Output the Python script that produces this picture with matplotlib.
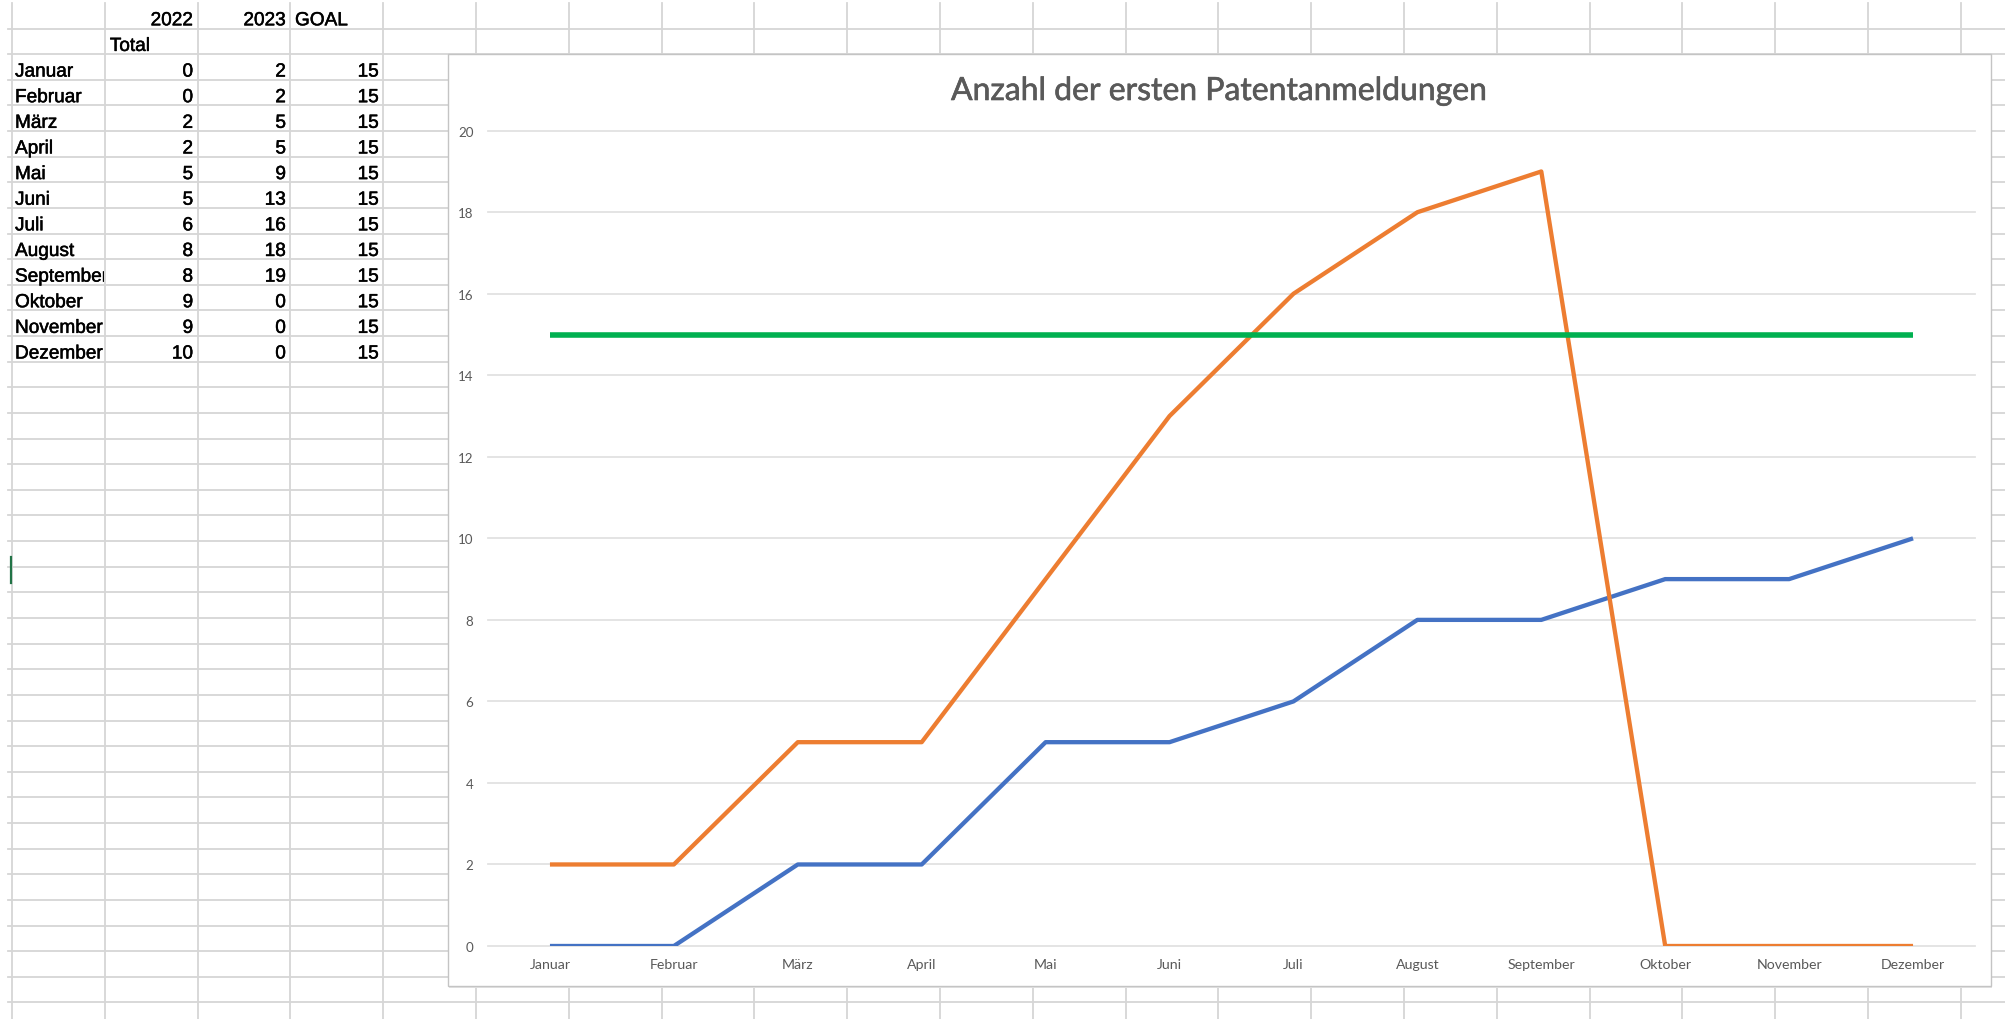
import matplotlib
matplotlib.use("Agg")
import matplotlib.pyplot as plt
from matplotlib.patches import Rectangle
from matplotlib import patheffects as pe
import numpy as np

# ---- data ----
months = ["Januar", "Februar", "März", "April", "Mai", "Juni", "Juli",
          "August", "September", "Oktober", "November", "Dezember"]
values_2022 = [0, 0, 2, 2, 5, 5, 6, 8, 8, 9, 9, 10]
values_2023 = [2, 2, 5, 5, 9, 13, 16, 18, 19, 0, 0, 0]
goal = [15] * 12
series_names = ["2022", "2023", "GOAL"]
title = "Anzahl der ersten Patentanmeldungen"
y_ticks = list(range(0, 21, 2))

W, H = 2005, 1020
fig = plt.figure(figsize=(W / 100, H / 100), dpi=100)
fig.patch.set_facecolor("white")

# ---- spreadsheet background ----
bg = fig.add_axes([0, 0, 1, 1])
bg.set_xlim(0, W)
bg.set_ylim(H, 0)
bg.axis("off")

grid_c = "#d6d6d6"
col0, colw = 12.0, 92.8
row0, rowh = 29.5, 25.63
col_x = [col0 + colw * n for n in range(22)]
row_y = [row0 + rowh * k for k in range(40) if row0 + rowh * k < H]
for x in col_x:
    bg.plot([x, x], [4, H], color=grid_c, lw=1.3, zorder=1)
for y in row_y:
    bg.plot([8, W], [y, y], color=grid_c, lw=1.3, zorder=1)

# cursor mark
bg.plot([11.5, 11.5], [558, 584], color="#217346", lw=1.6, zorder=2)

thick = [pe.withStroke(linewidth=0.35, foreground="black")]
tfont = dict(family="Liberation Sans", fontsize=13.7, color="black", path_effects=thick)

def row_base(r):
    return row0 + rowh * (r - 1) - 3.2

bg.text(col_x[2] - 4.5, row_base(1), series_names[0], ha="right", va="baseline", **tfont)
bg.text(col_x[3] - 4.5, row_base(1), series_names[1], ha="right", va="baseline", **tfont)
bg.text(col_x[3] + 4.6, row_base(1), series_names[2], ha="left", va="baseline", **tfont)
bg.text(col_x[1] + 5, row_base(2), "Total", ha="left", va="baseline", **tfont)
for i, m in enumerate(months):
    r = 3 + i
    t = bg.text(col_x[0] + 3, row_base(r), m, ha="left", va="baseline", clip_on=True, **tfont)
    clip = Rectangle((col_x[0], 0), colw - 1.0, H, transform=bg.transData)
    t.set_clip_path(clip)
    bg.text(col_x[2] - 4.5, row_base(r), str(values_2022[i]), ha="right", va="baseline", **tfont)
    bg.text(col_x[3] - 4.5, row_base(r), str(values_2023[i]), ha="right", va="baseline", **tfont)
    bg.text(col_x[4] - 4.5, row_base(r), str(goal[i]), ha="right", va="baseline", **tfont)

# chart box
bg.add_patch(Rectangle((449, 57), 1543, 932, facecolor="#e4e4e4", edgecolor="none", zorder=4))
bg.add_patch(Rectangle((448, 55), 1543, 932, facecolor="white", edgecolor="#c4c4c4", lw=1.0, zorder=5))

# ---- chart axes ----
x_left, x_right = 488, 1975
y_top, y_bot = 131.7, 947
ax = fig.add_axes([x_left / W, 1 - y_bot / H, (x_right - x_left) / W, (y_bot - y_top) / H])
ax.set_facecolor("none")
for s in ax.spines.values():
    s.set_visible(False)

x = np.arange(len(months))
ax.plot(x, values_2022, color="#4472C4", lw=3.1, solid_joinstyle="round", solid_capstyle="butt", zorder=3)
ax.plot(x, values_2023, color="#ED7D31", lw=3.1, solid_joinstyle="round", solid_capstyle="butt", zorder=4)
ax.plot(x, goal, color="#00B050", lw=4.0, solid_joinstyle="round", solid_capstyle="butt", zorder=5)

ax.set_xlim(-0.5, len(months) - 0.5)
ax.set_ylim(0, 20)
ax.set_yticks(y_ticks)
ax.set_yticklabels([str(v) for v in y_ticks])
ax.set_xticks(x)
ax.set_xticklabels(months)
ax.yaxis.grid(True, color="#e2e2e2", lw=1.3)
ax.xaxis.grid(False)
ax.set_axisbelow(True)
for gl in ax.get_ygridlines():
    gl.set_clip_on(False)
ax.tick_params(axis="both", length=0)
ax.tick_params(axis="y", pad=10.5, labelsize=9.6, labelcolor="#595959")
ax.tick_params(axis="x", pad=9, labelsize=10.2, labelcolor="#595959")
for lab in ax.get_xticklabels() + ax.get_yticklabels():
    lab.set_family("Lato")

# title
tt = fig.text(1219 / W, 1 - 92 / H, title, ha="center", va="center",
              family="Lato", fontsize=20, color="#595959",
              path_effects=[pe.withStroke(linewidth=0.45, foreground="#595959")])
fig.canvas.draw()
bb = tt.get_window_extent()
tt.set_fontsize(20 * 538 / bb.width)

fig.savefig("out.png", dpi=100, facecolor="white")
